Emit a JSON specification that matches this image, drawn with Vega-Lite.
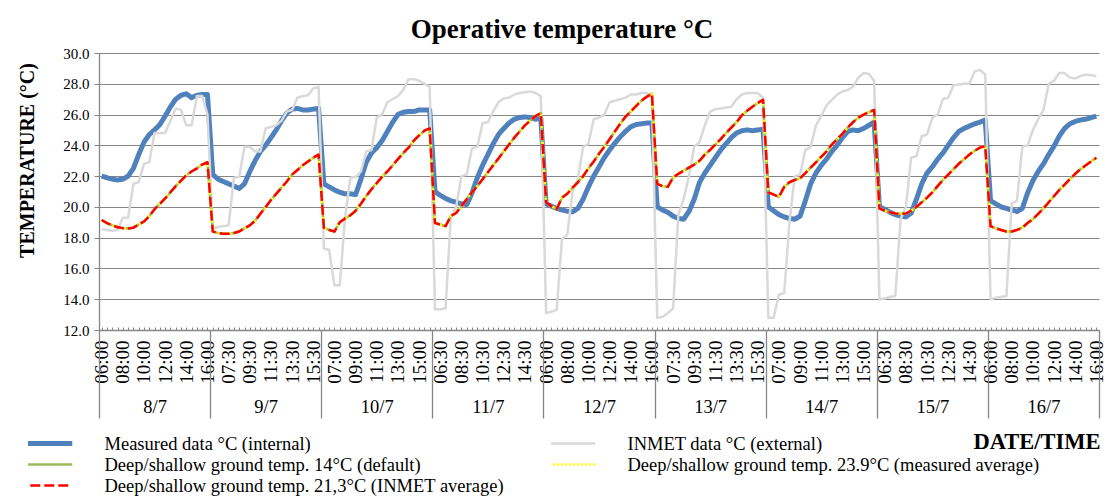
{
  "$schema": "https://vega.github.io/schema/vega-lite/v6.json",
  "width": 1000,
  "height": 277,
  "autosize": {"type": "none"},
  "padding": {"left": 99, "top": 53, "right": 8, "bottom": 166},
  "background": "white",
  "title": {"text": "Operative temperature °C", "font": "Liberation Serif", "fontSize": 27, "fontWeight": "bold", "color": "black", "anchor": "middle", "frame": "group", "dx": -37, "offset": 2},
  "data": {"values": [
{"i":0,"m":22.0,"n":18.55,"a":19.15,"b":19.15,"c":19.15},
{"i":1,"m":21.9,"n":18.5,"a":18.95,"b":18.95,"c":18.95},
{"i":2,"m":21.8,"n":18.45,"a":18.8,"b":18.8,"c":18.8},
{"i":3,"m":21.75,"n":18.5,"a":18.68,"b":18.68,"c":18.68},
{"i":4,"m":21.8,"n":19.3,"a":18.62,"b":18.62,"c":18.62},
{"i":5,"m":22.0,"n":19.3,"a":18.6,"b":18.6,"c":18.6},
{"i":6,"m":22.5,"n":21.5,"a":18.65,"b":18.65,"c":18.65},
{"i":7,"m":23.4,"n":21.6,"a":18.85,"b":18.85,"c":18.85},
{"i":8,"m":24.2,"n":22.8,"a":19.05,"b":19.05,"c":19.05},
{"i":9,"m":24.7,"n":22.9,"a":19.4,"b":19.4,"c":19.4},
{"i":10,"m":25.0,"n":24.8,"a":19.85,"b":19.85,"c":19.85},
{"i":11,"m":25.35,"n":24.8,"a":20.2,"b":20.2,"c":20.2},
{"i":12,"m":25.9,"n":24.8,"a":20.55,"b":20.55,"c":20.55},
{"i":13,"m":26.5,"n":25.6,"a":20.95,"b":20.95,"c":20.95},
{"i":14,"m":27.0,"n":26.4,"a":21.35,"b":21.35,"c":21.35},
{"i":15,"m":27.25,"n":26.3,"a":21.7,"b":21.7,"c":21.7},
{"i":16,"m":27.35,"n":25.3,"a":22.05,"b":22.05,"c":22.05},
{"i":17,"m":27.1,"n":25.3,"a":22.3,"b":22.3,"c":22.3},
{"i":18,"m":27.25,"n":27.2,"a":22.5,"b":22.5,"c":22.5},
{"i":19,"m":27.3,"n":27.2,"a":22.75,"b":22.75,"c":22.75},
{"i":20,"m":27.3,"n":26.0,"a":22.9,"b":22.9,"c":22.9},
{"i":21,"m":22.1,"n":18.6,"a":18.4,"b":18.4,"c":18.4},
{"i":22,"m":21.8,"n":18.7,"a":18.3,"b":18.3,"c":18.3},
{"i":23,"m":21.65,"n":18.75,"a":18.25,"b":18.25,"c":18.25},
{"i":24,"m":21.5,"n":18.8,"a":18.25,"b":18.25,"c":18.25},
{"i":25,"m":21.35,"n":21.9,"a":18.3,"b":18.3,"c":18.3},
{"i":26,"m":21.2,"n":21.95,"a":18.4,"b":18.4,"c":18.4},
{"i":27,"m":21.5,"n":23.9,"a":18.6,"b":18.6,"c":18.6},
{"i":28,"m":22.3,"n":23.9,"a":18.8,"b":18.8,"c":18.8},
{"i":29,"m":23.0,"n":23.6,"a":19.1,"b":19.1,"c":19.1},
{"i":30,"m":23.6,"n":23.6,"a":19.55,"b":19.55,"c":19.55},
{"i":31,"m":24.0,"n":25.1,"a":20.0,"b":20.0,"c":20.0},
{"i":32,"m":24.5,"n":25.2,"a":20.45,"b":20.45,"c":20.45},
{"i":33,"m":25.0,"n":25.3,"a":20.85,"b":20.85,"c":20.85},
{"i":34,"m":25.6,"n":25.6,"a":21.25,"b":21.25,"c":21.25},
{"i":35,"m":26.1,"n":26.2,"a":21.65,"b":21.65,"c":21.65},
{"i":36,"m":26.35,"n":26.3,"a":22.1,"b":22.1,"c":22.1},
{"i":37,"m":26.4,"n":27.1,"a":22.4,"b":22.4,"c":22.4},
{"i":38,"m":26.3,"n":27.2,"a":22.7,"b":22.7,"c":22.7},
{"i":39,"m":26.3,"n":27.25,"a":22.95,"b":22.95,"c":22.95},
{"i":40,"m":26.35,"n":27.7,"a":23.2,"b":23.2,"c":23.2},
{"i":41,"m":26.4,"n":27.8,"a":23.4,"b":23.4,"c":23.4},
{"i":42,"m":21.5,"n":17.3,"a":18.65,"b":18.65,"c":18.65},
{"i":43,"m":21.3,"n":17.2,"a":18.5,"b":18.5,"c":18.5},
{"i":44,"m":21.1,"n":14.9,"a":18.4,"b":18.4,"c":18.4},
{"i":45,"m":20.95,"n":14.9,"a":19.0,"b":19.0,"c":19.0},
{"i":46,"m":20.85,"n":19.3,"a":19.25,"b":19.25,"c":19.25},
{"i":47,"m":20.85,"n":21.9,"a":19.45,"b":19.45,"c":19.45},
{"i":48,"m":20.8,"n":21.95,"a":19.75,"b":19.75,"c":19.75},
{"i":49,"m":21.8,"n":22.3,"a":20.2,"b":20.2,"c":20.2},
{"i":50,"m":22.9,"n":23.6,"a":20.7,"b":20.7,"c":20.7},
{"i":51,"m":23.5,"n":23.7,"a":21.15,"b":21.15,"c":21.15},
{"i":52,"m":23.85,"n":25.8,"a":21.55,"b":21.55,"c":21.55},
{"i":53,"m":24.3,"n":26.0,"a":21.95,"b":21.95,"c":21.95},
{"i":54,"m":24.9,"n":26.8,"a":22.3,"b":22.3,"c":22.3},
{"i":55,"m":25.5,"n":27.0,"a":22.7,"b":22.7,"c":22.7},
{"i":56,"m":26.0,"n":27.2,"a":23.1,"b":23.1,"c":23.1},
{"i":57,"m":26.15,"n":27.6,"a":23.5,"b":23.5,"c":23.5},
{"i":58,"m":26.2,"n":28.3,"a":23.85,"b":23.85,"c":23.85},
{"i":59,"m":26.2,"n":28.3,"a":24.3,"b":24.3,"c":24.3},
{"i":60,"m":26.3,"n":28.2,"a":24.65,"b":24.65,"c":24.65},
{"i":61,"m":26.3,"n":28.0,"a":24.95,"b":24.95,"c":24.95},
{"i":62,"m":26.3,"n":27.8,"a":25.1,"b":25.1,"c":25.1},
{"i":63,"m":21.0,"n":13.35,"a":18.95,"b":18.95,"c":18.95},
{"i":64,"m":20.75,"n":13.35,"a":18.85,"b":18.85,"c":18.85},
{"i":65,"m":20.55,"n":13.4,"a":18.75,"b":18.75,"c":18.75},
{"i":66,"m":20.4,"n":19.35,"a":19.4,"b":19.4,"c":19.4},
{"i":67,"m":20.3,"n":20.0,"a":19.6,"b":19.6,"c":19.6},
{"i":68,"m":20.2,"n":22.0,"a":20.05,"b":20.05,"c":20.05},
{"i":69,"m":20.15,"n":22.1,"a":20.5,"b":20.5,"c":20.5},
{"i":70,"m":20.9,"n":23.8,"a":20.95,"b":20.95,"c":20.95},
{"i":71,"m":21.9,"n":23.9,"a":21.35,"b":21.35,"c":21.35},
{"i":72,"m":22.7,"n":25.45,"a":21.8,"b":21.8,"c":21.8},
{"i":73,"m":23.4,"n":25.5,"a":22.25,"b":22.25,"c":22.25},
{"i":74,"m":24.1,"n":26.2,"a":22.7,"b":22.7,"c":22.7},
{"i":75,"m":24.7,"n":26.8,"a":23.15,"b":23.15,"c":23.15},
{"i":76,"m":25.1,"n":27.05,"a":23.6,"b":23.6,"c":23.6},
{"i":77,"m":25.45,"n":27.1,"a":24.05,"b":24.05,"c":24.05},
{"i":78,"m":25.7,"n":27.3,"a":24.5,"b":24.5,"c":24.5},
{"i":79,"m":25.8,"n":27.4,"a":24.9,"b":24.9,"c":24.9},
{"i":80,"m":25.85,"n":27.45,"a":25.3,"b":25.3,"c":25.3},
{"i":81,"m":25.8,"n":27.5,"a":25.6,"b":25.6,"c":25.6},
{"i":82,"m":25.7,"n":27.4,"a":25.9,"b":25.9,"c":25.9},
{"i":83,"m":25.75,"n":27.2,"a":26.1,"b":26.1,"c":26.1},
{"i":84,"m":20.2,"n":13.1,"a":20.3,"b":20.3,"c":20.3},
{"i":85,"m":20.05,"n":13.2,"a":20.05,"b":20.05,"c":20.05},
{"i":86,"m":19.9,"n":13.3,"a":19.85,"b":19.85,"c":19.85},
{"i":87,"m":19.8,"n":17.9,"a":20.6,"b":20.6,"c":20.6},
{"i":88,"m":19.72,"n":18.2,"a":20.85,"b":20.85,"c":20.85},
{"i":89,"m":19.68,"n":21.0,"a":21.25,"b":21.25,"c":21.25},
{"i":90,"m":19.9,"n":21.8,"a":21.6,"b":21.6,"c":21.6},
{"i":91,"m":20.5,"n":23.9,"a":22.0,"b":22.0,"c":22.0},
{"i":92,"m":21.3,"n":24.1,"a":22.5,"b":22.5,"c":22.5},
{"i":93,"m":22.0,"n":25.7,"a":22.95,"b":22.95,"c":22.95},
{"i":94,"m":22.6,"n":25.8,"a":23.45,"b":23.45,"c":23.45},
{"i":95,"m":23.2,"n":26.0,"a":23.9,"b":23.9,"c":23.9},
{"i":96,"m":23.7,"n":26.8,"a":24.4,"b":24.4,"c":24.4},
{"i":97,"m":24.15,"n":26.9,"a":24.9,"b":24.9,"c":24.9},
{"i":98,"m":24.55,"n":27.0,"a":25.4,"b":25.4,"c":25.4},
{"i":99,"m":24.9,"n":27.1,"a":25.85,"b":25.85,"c":25.85},
{"i":100,"m":25.2,"n":27.3,"a":26.2,"b":26.2,"c":26.2},
{"i":101,"m":25.35,"n":27.3,"a":26.55,"b":26.55,"c":26.55},
{"i":102,"m":25.4,"n":27.4,"a":26.9,"b":26.9,"c":26.9},
{"i":103,"m":25.45,"n":27.4,"a":27.15,"b":27.15,"c":27.15},
{"i":104,"m":25.45,"n":27.1,"a":27.35,"b":27.35,"c":27.35},
{"i":105,"m":20.0,"n":12.8,"a":21.5,"b":21.5,"c":21.5},
{"i":106,"m":19.8,"n":12.85,"a":21.35,"b":21.35,"c":21.35},
{"i":107,"m":19.65,"n":13.1,"a":21.3,"b":21.3,"c":21.3},
{"i":108,"m":19.4,"n":13.4,"a":21.9,"b":21.9,"c":21.9},
{"i":109,"m":19.25,"n":19.5,"a":22.15,"b":22.15,"c":22.15},
{"i":110,"m":19.2,"n":20.5,"a":22.35,"b":22.35,"c":22.35},
{"i":111,"m":19.7,"n":22.0,"a":22.55,"b":22.55,"c":22.55},
{"i":112,"m":20.5,"n":23.9,"a":22.75,"b":22.75,"c":22.75},
{"i":113,"m":21.6,"n":24.2,"a":23.0,"b":23.0,"c":23.0},
{"i":114,"m":22.2,"n":25.3,"a":23.4,"b":23.4,"c":23.4},
{"i":115,"m":22.7,"n":26.2,"a":23.7,"b":23.7,"c":23.7},
{"i":116,"m":23.2,"n":26.35,"a":24.05,"b":24.05,"c":24.05},
{"i":117,"m":23.7,"n":26.4,"a":24.4,"b":24.4,"c":24.4},
{"i":118,"m":24.1,"n":26.45,"a":24.8,"b":24.8,"c":24.8},
{"i":119,"m":24.5,"n":26.5,"a":25.15,"b":25.15,"c":25.15},
{"i":120,"m":24.8,"n":27.0,"a":25.5,"b":25.5,"c":25.5},
{"i":121,"m":24.95,"n":27.3,"a":25.95,"b":25.95,"c":25.95},
{"i":122,"m":25.0,"n":27.4,"a":26.25,"b":26.25,"c":26.25},
{"i":123,"m":24.95,"n":27.4,"a":26.5,"b":26.5,"c":26.5},
{"i":124,"m":25.0,"n":27.4,"a":26.75,"b":26.75,"c":26.75},
{"i":125,"m":25.05,"n":27.1,"a":26.95,"b":26.95,"c":26.95},
{"i":126,"m":20.0,"n":12.8,"a":20.95,"b":20.95,"c":20.95},
{"i":127,"m":19.75,"n":12.8,"a":20.8,"b":20.8,"c":20.8},
{"i":128,"m":19.5,"n":14.3,"a":20.65,"b":20.65,"c":20.65},
{"i":129,"m":19.35,"n":14.4,"a":21.3,"b":21.3,"c":21.3},
{"i":130,"m":19.25,"n":19.0,"a":21.6,"b":21.6,"c":21.6},
{"i":131,"m":19.2,"n":22.0,"a":21.75,"b":21.75,"c":21.75},
{"i":132,"m":19.4,"n":22.1,"a":21.85,"b":21.85,"c":21.85},
{"i":133,"m":20.4,"n":23.7,"a":22.2,"b":22.2,"c":22.2},
{"i":134,"m":21.5,"n":23.9,"a":22.55,"b":22.55,"c":22.55},
{"i":135,"m":22.2,"n":25.3,"a":22.9,"b":22.9,"c":22.9},
{"i":136,"m":22.7,"n":25.9,"a":23.25,"b":23.25,"c":23.25},
{"i":137,"m":23.1,"n":26.6,"a":23.6,"b":23.6,"c":23.6},
{"i":138,"m":23.6,"n":26.95,"a":24.05,"b":24.05,"c":24.05},
{"i":139,"m":24.0,"n":27.3,"a":24.4,"b":24.4,"c":24.4},
{"i":140,"m":24.5,"n":27.5,"a":24.75,"b":24.75,"c":24.75},
{"i":141,"m":24.9,"n":27.6,"a":25.15,"b":25.15,"c":25.15},
{"i":142,"m":25.0,"n":27.8,"a":25.5,"b":25.5,"c":25.5},
{"i":143,"m":24.95,"n":28.4,"a":25.8,"b":25.8,"c":25.8},
{"i":144,"m":25.1,"n":28.7,"a":26.0,"b":26.0,"c":26.0},
{"i":145,"m":25.3,"n":28.65,"a":26.15,"b":26.15,"c":26.15},
{"i":146,"m":25.5,"n":28.2,"a":26.3,"b":26.3,"c":26.3},
{"i":147,"m":20.0,"n":14.0,"a":19.9,"b":19.9,"c":19.9},
{"i":148,"m":19.85,"n":14.05,"a":19.75,"b":19.75,"c":19.75},
{"i":149,"m":19.65,"n":14.15,"a":19.65,"b":19.65,"c":19.65},
{"i":150,"m":19.5,"n":14.2,"a":19.57,"b":19.57,"c":19.57},
{"i":151,"m":19.4,"n":19.2,"a":19.55,"b":19.55,"c":19.55},
{"i":152,"m":19.35,"n":20.0,"a":19.57,"b":19.57,"c":19.57},
{"i":153,"m":19.6,"n":23.2,"a":19.75,"b":19.75,"c":19.75},
{"i":154,"m":20.5,"n":23.3,"a":20.0,"b":20.0,"c":20.0},
{"i":155,"m":21.5,"n":24.6,"a":20.3,"b":20.3,"c":20.3},
{"i":156,"m":22.2,"n":24.7,"a":20.6,"b":20.6,"c":20.6},
{"i":157,"m":22.6,"n":25.8,"a":20.95,"b":20.95,"c":20.95},
{"i":158,"m":23.1,"n":26.0,"a":21.35,"b":21.35,"c":21.35},
{"i":159,"m":23.5,"n":27.0,"a":21.75,"b":21.75,"c":21.75},
{"i":160,"m":24.0,"n":27.1,"a":22.1,"b":22.1,"c":22.1},
{"i":161,"m":24.5,"n":27.9,"a":22.45,"b":22.45,"c":22.45},
{"i":162,"m":24.9,"n":27.95,"a":22.8,"b":22.8,"c":22.8},
{"i":163,"m":25.1,"n":28.0,"a":23.1,"b":23.1,"c":23.1},
{"i":164,"m":25.25,"n":28.0,"a":23.4,"b":23.4,"c":23.4},
{"i":165,"m":25.4,"n":28.8,"a":23.65,"b":23.65,"c":23.65},
{"i":166,"m":25.5,"n":28.9,"a":23.85,"b":23.85,"c":23.85},
{"i":167,"m":25.65,"n":28.6,"a":23.95,"b":23.95,"c":23.95},
{"i":168,"m":20.4,"n":14.0,"a":18.75,"b":18.75,"c":18.75},
{"i":169,"m":20.2,"n":14.1,"a":18.6,"b":18.6,"c":18.6},
{"i":170,"m":20.0,"n":14.15,"a":18.5,"b":18.5,"c":18.5},
{"i":171,"m":19.9,"n":14.2,"a":18.4,"b":18.4,"c":18.4},
{"i":172,"m":19.8,"n":20.2,"a":18.4,"b":18.4,"c":18.4},
{"i":173,"m":19.7,"n":20.4,"a":18.5,"b":18.5,"c":18.5},
{"i":174,"m":19.9,"n":23.9,"a":18.65,"b":18.65,"c":18.65},
{"i":175,"m":20.9,"n":24.0,"a":18.95,"b":18.95,"c":18.95},
{"i":176,"m":21.7,"n":25.0,"a":19.2,"b":19.2,"c":19.2},
{"i":177,"m":22.3,"n":25.7,"a":19.55,"b":19.55,"c":19.55},
{"i":178,"m":22.8,"n":26.3,"a":19.9,"b":19.9,"c":19.9},
{"i":179,"m":23.4,"n":28.0,"a":20.3,"b":20.3,"c":20.3},
{"i":180,"m":23.95,"n":28.2,"a":20.7,"b":20.7,"c":20.7},
{"i":181,"m":24.6,"n":28.7,"a":21.1,"b":21.1,"c":21.1},
{"i":182,"m":25.1,"n":28.7,"a":21.45,"b":21.45,"c":21.45},
{"i":183,"m":25.4,"n":28.4,"a":21.8,"b":21.8,"c":21.8},
{"i":184,"m":25.55,"n":28.35,"a":22.15,"b":22.15,"c":22.15},
{"i":185,"m":25.65,"n":28.5,"a":22.45,"b":22.45,"c":22.45},
{"i":186,"m":25.7,"n":28.6,"a":22.7,"b":22.7,"c":22.7},
{"i":187,"m":25.8,"n":28.55,"a":22.95,"b":22.95,"c":22.95},
{"i":188,"m":25.9,"n":28.5,"a":23.2,"b":23.2,"c":23.2}
  ]},
  "transform": [{"fold": ["m", "n", "a", "b", "c"], "as": ["s", "v"]}],
  "layer": [
    {
      "mark": {"type": "line", "strokeJoin": "round", "strokeCap": "butt"},
      "encoding": {
        "x": {"field": "i", "type": "quantitative",
          "scale": {"domain": [-0.5, 188.5], "nice": false, "zero": false},
          "axis": {"orient": "bottom", "tickCount": 189, "labelExpr": "datum.value % 4 == 0 ? ((floor((datum.value % 21) / 2) + 6 < 10 ? '0' : '') + (floor((datum.value % 21) / 2) + 6) + ':' + ((datum.value % 21) % 2 == 1 ? '30' : '00')) : ''",
            "labelAngle": 270, "labelAlign": "right", "labelBaseline": "middle", "labelFontSize": 19, "labelPadding": 13,
            "labelOverlap": false, "labelFlush": false, "labelBound": false,
            "tickSize": -3, "tickColor": "#868686", "tickWidth": 1, "domainColor": "#868686", "domainWidth": 1.3, "grid": false, "title": null}},
        "y": {"field": "v", "type": "quantitative",
          "scale": {"domain": [12, 30], "nice": false, "zero": false},
          "axis": {"values": [12, 14, 16, 18, 20, 22, 24, 26, 28, 30], "format": ".1f", "labelFontSize": 15, "labelPadding": 5,
            "tickSize": 5, "tickColor": "#868686", "domainColor": "#868686", "domainWidth": 1.3, "grid": true, "gridColor": "#868686", "gridWidth": 1.2,
            "title": "TEMPERATURE (°C)", "titleFontSize": 20, "titleFontWeight": "bold", "titleX": -72, "titleY": 107, "titleAngle": 270, "titleAlign": "center", "titleBaseline": "middle"}},
        "color": {"field": "s", "type": "nominal",
          "scale": {"domain": ["m", "n", "a", "b", "c"], "range": ["#4F81BD", "#D9D9D9", "#9BBB59", "#FFFF00", "#FF0000"]},
          "legend": {"orient": "none", "legendX": -71, "legendY": 380, "columns": 2, "direction": "horizontal", "title": null, "padding": 0,
            "symbolType": "stroke", "symbolSize": 4900, "clipHeight": 21, "rowPadding": 0, "columnPadding": 47,
            "symbolStrokeWidth": {"expr": "datum.value == 'm' ? 5 : 2.5"},
            "labelFont": "Liberation Serif", "labelFontSize": 18.5, "labelColor": "black", "labelLimit": 1000, "labelOffset": 58,
            "labelExpr": "datum.label == 'm' ? 'Measured data °C (internal)' : datum.label == 'n' ? 'INMET data °C (external)' : datum.label == 'a' ? 'Deep/shallow ground temp. 14°C (default)' : datum.label == 'b' ? 'Deep/shallow ground temp. 23.9°C (measured average)' : 'Deep/shallow ground temp. 21,3°C (INMET average)'"}},
        "strokeDash": {"field": "s", "type": "nominal",
          "scale": {"domain": ["m", "n", "a", "b", "c"], "range": [[1, 0], [1, 0], [1, 0], [2, 2], [10, 4]]}},
        "strokeWidth": {"condition": {"test": "datum.s == 'm'", "value": 5}, "value": 2.5}
      }
    },
    {
      "mark": {"type": "point", "opacity": 0},
      "encoding": {
        "x": {"field": "i", "type": "quantitative",
          "scale": {"domain": [-0.5, 188.5], "nice": false, "zero": false},
          "axis": {"orient": "bottom", "values": [-0.5, 20.5, 41.5, 62.5, 83.5, 104.5, 125.5, 146.5, 167.5, 188.5], "labels": false,
            "tickSize": 88, "tickColor": "#868686", "tickWidth": 1.3, "domain": false, "grid": false, "title": null}}
      }
    },
    {
      "mark": {"type": "point", "opacity": 0},
      "encoding": {
        "x": {"field": "i", "type": "quantitative",
          "scale": {"domain": [-0.5, 188.5], "nice": false, "zero": false},
          "axis": {"orient": "bottom", "values": [10, 31, 52, 73, 94, 115, 136, 157, 178],
            "labelExpr": "(floor(datum.value / 21) + 8) + '/7'",
            "ticks": false, "domain": false, "grid": false, "labelAngle": 0, "labelAlign": "center", "labelBaseline": "top",
            "labelFontSize": 18.5, "labelPadding": 67, "labelOverlap": false, "labelFlush": false,
            "title": "DATE/TIME", "titleX": 1001, "titleY": 118, "titleAlign": "right", "titleBaseline": "alphabetic",
            "titleFontSize": 22.5, "titleFontWeight": "bold", "titleAngle": 0}}
      }
    }
  ],
  "resolve": {"axis": {"x": "independent"}},
  "config": {
    "view": {"stroke": null},
    "font": "Liberation Serif",
    "axis": {"labelFont": "Liberation Serif", "titleFont": "Liberation Serif", "labelColor": "black", "titleColor": "black"}
  }
}
